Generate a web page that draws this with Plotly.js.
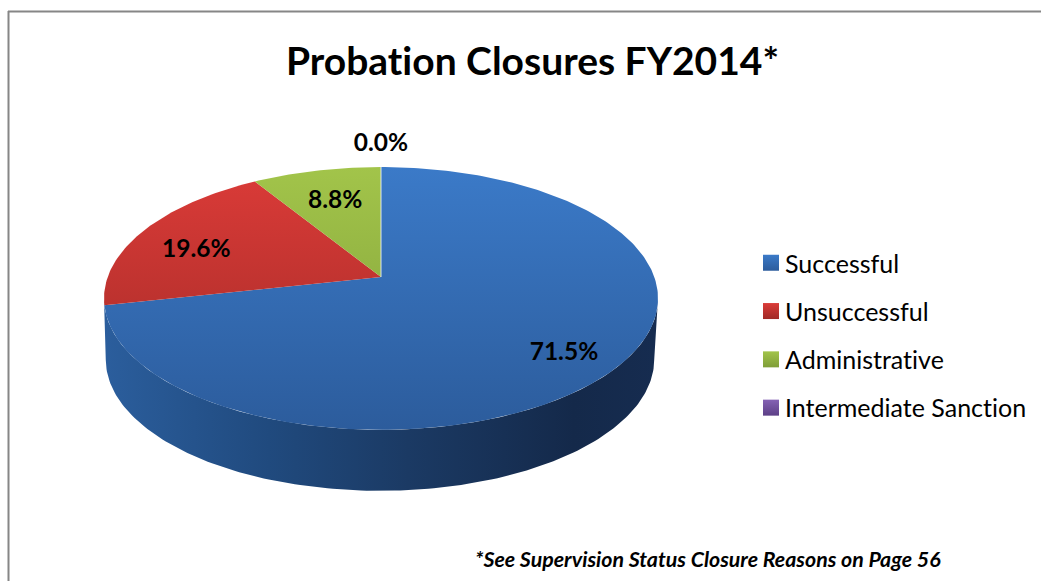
<!DOCTYPE html>
<html>
<head>
<meta charset="utf-8">
<script src="https://cdn.plot.ly/plotly-3.0.1.min.js"></script>
<style>html,body{margin:0;padding:0;background:#fff}#chart{width:1041px;height:581px}text,tspan{font-variant-ligatures:none !important;font-feature-settings:"liga" 0 !important}</style>
</head>
<body>
<div id="chart"></div>
<script>
// ---- data ----
const categories = ['Successful', 'Unsuccessful', 'Administrative', 'Intermediate Sanction'];
const values = [71.5, 19.6, 8.8, 0.0];
const chartTitle = 'Probation Closures FY2014*';
const footnote = '*See Supervision Status Closure Reasons on Page 56';

// ---- style ----
const faceTop = ['#3B7AC8', '#DB3B38', '#A2C44A', '#8562B4'];
const faceBottom = ['#2C5C9C', '#A02A26', '#7F9E38', '#5C3F86'];
const wallScale = [[0, '#2B5E9D'], [0.3, '#204A7E'], [0.55, '#1B3A64'], [0.85, '#14294A'], [1, '#162C50']];
const FONT = 'Lato, "Open Sans", sans-serif';
// label placement in disc radius units, with a small vertical nudge in pixels
const labelRadius = [0.79, 0.77, 0.68, 1.27];
const labelNudge = [8, 11, 0, 2];

// ---- perspective disc ----
const cx = 381, cy = 277, A = 273.3, B = 127.9, K = 0.163, depth = 61, wallShrink = 0.99;
function disc(deg, r) {
  const t = deg * Math.PI / 180, u = r * Math.sin(t), v = r * Math.cos(t), d = 1 + K * v;
  return [cx + A * u / d, cy - B * v / d];
}
const total = values.reduce((a, b) => a + b, 0);
let cum = 0;
const spans = values.map(v => { const s = cum; cum += v; return [s / total * 360, cum / total * 360]; });

const traces = [];

// side wall: front half of the rim (between its widest points), extruded downwards
const wx = [], wy = [], bx = [], by = [];
const tilt = Math.asin(K) * 180 / Math.PI;
for (let a = 90 + tilt; a <= 270 - tilt; a += 1) {
  const p = disc(a, 1);
  wx.push(p[0]); wy.push(p[1]);
  bx.push(cx - 1 + (p[0] - cx) * wallShrink); by.push(p[1] + depth);
}
traces.push({
  type: 'scatter', mode: 'lines', x: wx.concat(bx.reverse()), y: wy.concat(by.reverse()),
  fill: 'toself', line: {width: 0}, hoverinfo: 'skip', showlegend: false,
  fillgradient: {type: 'horizontal', start: 103, stop: 657, colorscale: wallScale}
});

// top face wedges
spans.forEach((s, i) => {
  const xs = [cx], ys = [cy];
  const n = Math.max(1, Math.ceil(s[1] - s[0]));
  for (let k = 0; k <= n; k++) {
    const p = disc(s[0] + (s[1] - s[0]) * k / n, 1);
    xs.push(p[0]); ys.push(p[1]);
  }
  xs.push(cx); ys.push(cy);
  if (values[i] > 0) {
    traces.push({
      type: 'scatter', mode: 'lines', x: xs, y: ys, fill: 'toself', line: {width: 0},
      name: categories[i], hoverinfo: 'name', showlegend: false,
      fillgradient: {type: 'vertical', start: 167, stop: 430,
        colorscale: [[0, faceTop[i]], [1, faceBottom[i]]]}
    });
  } else {
    traces.push({
      type: 'scatter', mode: 'lines', x: xs, y: ys, line: {width: 1.2, color: 'rgba(235,240,248,0.75)'},
      name: categories[i], hoverinfo: 'name', showlegend: false
    });
  }
});

// percentage labels
const lx = [], ly = [], lt = [];
spans.forEach((s, i) => {
  const p = disc((s[0] + s[1]) / 2, labelRadius[i]);
  lx.push(p[0]); ly.push(p[1] + labelNudge[i]); lt.push(values[i].toFixed(1) + '%');
});
traces.push({
  type: 'scatter', mode: 'text', x: lx, y: ly, text: lt, textposition: 'middle center',
  textfont: {family: FONT, size: 24.5, color: '#000', weight: 700}, hoverinfo: 'skip', showlegend: false
});

// legend entries
categories.forEach((c, i) => {
  traces.push({
    type: 'scatter', mode: 'markers', x: [null], y: [null], name: c, legendgroup: c,
    marker: {symbol: 'square', size: 16, color: faceTop[i],
      gradient: {type: 'vertical', color: faceBottom[i]}}
  });
});

const layout = {
  width: 1041, height: 581, margin: {l: 0, r: 0, t: 0, b: 0, pad: 0},
  paper_bgcolor: '#fff', plot_bgcolor: '#fff',
  title: {text: '<b>' + chartTitle + '</b>', x: 0.5115, xanchor: 'center', y: 0.895, yanchor: 'middle',
    font: {family: FONT, size: 39, color: '#000'}},
  xaxis: {range: [0, 1041], visible: false, fixedrange: true},
  yaxis: {range: [581, 0], visible: false, fixedrange: true},
  showlegend: true,
  legend: {x: 745 / 1041, xanchor: 'left', y: 1 - 240 / 581, yanchor: 'top', tracegroupgap: 12.8,
    bgcolor: 'rgba(0,0,0,0)', font: {family: FONT, size: 25, color: '#000'}, traceorder: 'grouped'},
  shapes: [
    {type: 'line', xref: 'paper', yref: 'paper', x0: 8.5 / 1041, x1: 8.5 / 1041, y0: 0, y1: 1 - 11 / 581,
      line: {color: '#868686', width: 2}},
    {type: 'line', xref: 'paper', yref: 'paper', x0: 8 / 1041, x1: 1, y0: 1 - 11.5 / 581, y1: 1 - 11.5 / 581,
      line: {color: '#868686', width: 2}}
  ],
  annotations: [{
    text: '<b><i>' + footnote + '</i></b>', xref: 'x', yref: 'y', x: 943, y: 559, xanchor: 'right', yanchor: 'middle',
    showarrow: false, font: {family: FONT, size: 21.35, color: '#000'}
  }]
};
Plotly.newPlot('chart', traces, layout, {displayModeBar: false}).then(function (gd) {
  // Excel keeps the swatch close to its text: move the legend swatches next to the labels
  document.querySelectorAll('.legendsymbols').forEach(function (n) { n.setAttribute('transform', 'translate(6,0)'); });
});
</script>
</body>
</html>
